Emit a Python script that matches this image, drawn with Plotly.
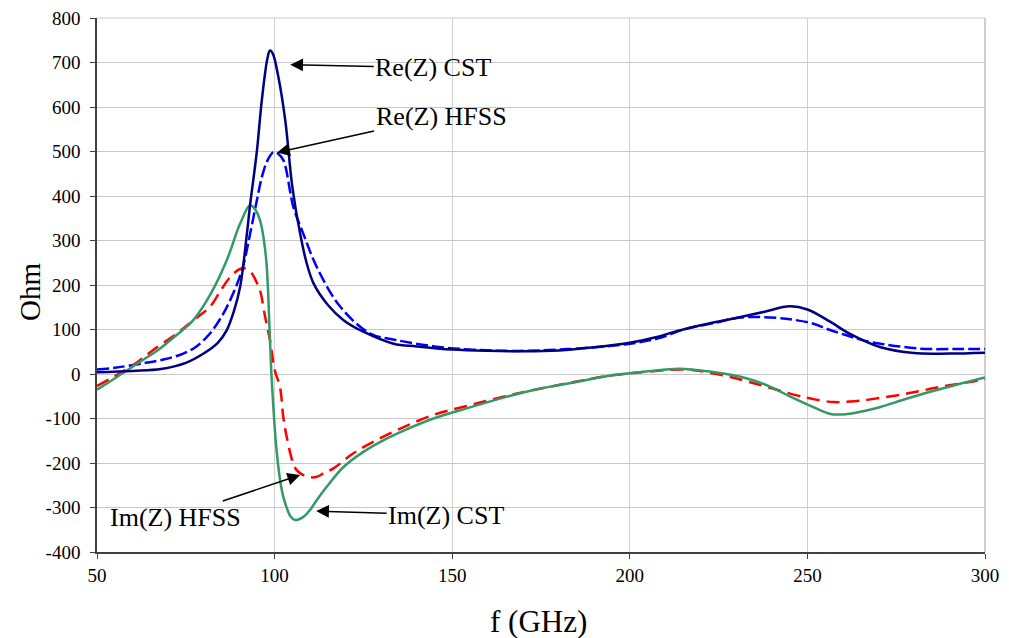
import plotly.graph_objects as go

# Re(Z) CST
re_cst_f = [50, 60, 68, 75, 80, 84, 86.5, 88.5, 90.3, 92.2, 93.1, 95, 96.4, 98, 98.7, 99.5, 101, 103, 105,
            107.2, 109, 111, 115, 119.4, 125, 133.5, 140, 150, 160, 170, 180, 190, 200, 207, 214, 222, 230,
            238, 245, 250, 256.5, 262, 270.6, 280, 290, 300]
re_cst_v = [4, 7, 11, 25, 46, 70, 98, 140, 196, 315, 380, 500, 615, 710, 727, 720, 670, 570, 420,
            315, 250, 203, 155, 121, 95, 68, 62, 55, 52, 51, 53, 60, 70, 82, 98, 113, 126,
            140, 152, 145, 117, 90, 60, 47, 46, 48]

# Re(Z) HFSS
re_hfss_f = [50, 55, 63, 69, 74.3, 78, 81.8, 85, 87.5, 90.8, 93.1, 95, 96.4, 98, 99.7, 101, 102.5, 105.3,
             108.1, 111.9, 118.5, 126.9, 134.4, 145, 155, 165, 175, 190, 200, 208, 216, 224, 231, 241.5,
             246, 251.7, 256, 261, 266, 271.4, 281.8, 292, 300]
re_hfss_v = [10, 14, 24, 33, 46, 62, 91, 128, 166, 233, 315, 390, 442, 480, 499, 495, 480, 375,
             315, 240, 151, 91, 76, 62, 55, 52, 53, 60, 68, 80, 102, 115, 127, 126,
             122, 113, 100, 87, 75, 67, 57, 56, 56]

# Im(Z) CST
im_cst_f = [50, 54, 58.4, 63, 67.7, 72, 77.1, 82, 86.5, 90.3, 93.1, 94.5, 95.9, 97, 97.8, 98.7, 99.2,
            100.6, 102, 103, 104.5, 105.8, 108.1, 110, 111.9, 115, 119.4, 125, 130.6, 137, 144.7, 155,
            165, 172.9, 185, 195, 205, 214, 222, 233, 240, 245.2, 251, 256.5, 261.2, 266, 270.6, 277,
            284.6, 292, 300]
im_cst_v = [-35, -15, 8, 32, 57, 85, 121, 180, 255, 338, 379, 370, 345, 300, 240, 76, -14,
            -175, -260, -291, -320, -328, -321, -305, -283, -250, -209, -175, -149, -125, -100, -75,
            -52, -36, -18, -3, 6, 12, 6, -10, -30, -51, -72, -90, -90, -83, -74, -58,
            -40, -24, -8]

# Im(Z) HFSS
im_hfss_f = [50, 55, 60.2, 66, 72.5, 77, 81.8, 85, 87.5, 90, 91.2, 92.5, 93.6, 95, 95.9, 97.3, 98.7,
             100, 101.5, 102.5, 103.4, 105, 106.2, 108.1, 110, 111.9, 114, 116.6, 122.2, 131.6, 144.7,
             155, 165, 172.9, 185, 195, 205, 216, 226.3, 236.8, 247, 252, 257.3, 262, 267.7, 278,
             287.5, 297.8, 300]
im_hfss_v = [-27, -5, 20, 55, 91, 120, 151, 190, 218, 235, 238, 233, 226, 205, 188, 130, 76,
             10, -29, -100, -141, -195, -216, -227, -232, -231, -222, -212, -178, -137, -92,
             -70, -50, -36, -17, -3, 5, 10, -3, -25, -48, -57, -63, -62, -57, -44,
             -29, -15, -12]

x_ticks = [50, 100, 150, 200, 250, 300]
y_ticks = [-400, -300, -200, -100, 0, 100, 200, 300, 400, 500, 600, 700, 800]
y_ticktext = [str(v) for v in y_ticks]

FONT = "Liberation Serif"

fig = go.Figure()
fig.add_trace(go.Scatter(x=re_hfss_f, y=re_hfss_v, mode="lines", line=dict(color="#0000FF", width=2.5, dash="12px,4px"),
                         line_shape="spline", name="Re(Z) HFSS"))
fig.add_trace(go.Scatter(x=im_hfss_f, y=im_hfss_v, mode="lines", line=dict(color="#FF0000", width=2.5, dash="13px,7px"),
                         line_shape="spline", name="Im(Z) HFSS"))
fig.add_trace(go.Scatter(x=im_cst_f, y=im_cst_v, mode="lines", line=dict(color="#339966", width=2.5),
                         line_shape="spline", name="Im(Z) CST"))
fig.add_trace(go.Scatter(x=re_cst_f, y=re_cst_v, mode="lines", line=dict(color="#000080", width=2.5),
                         line_shape="spline", name="Re(Z) CST"))

ann = [
    dict(text="Re(Z) CST", x=104.4, y=695, ax=143, ay=3),
    dict(text="Re(Z) HFSS", x=100.7, y=498, ax=164, ay=-36),
    dict(text="Im(Z) HFSS", x=107.2, y=-227, ax=-125, ay=42),
    dict(text="Im(Z) CST", x=111.7, y=-308, ax=130, ay=4),
]
for a in ann:
    fig.add_annotation(x=a["x"], y=a["y"], ax=a["ax"], ay=a["ay"], text=a["text"], showarrow=True,
                       arrowhead=2, arrowsize=1.7, arrowwidth=1.5, arrowcolor="black",
                       font=dict(family=FONT, size=26, color="black"))

# axis titles
fig.add_annotation(xref="paper", yref="paper", x=0.497, y=-0.131, yanchor="middle", showarrow=False,
                   text="f (GHz)", font=dict(family=FONT, size=31, color="black"))
fig.add_annotation(xref="paper", yref="paper", x=-0.0755, y=0.487, xanchor="center", yanchor="middle",
                   showarrow=False, textangle=-90, text="Ohm", font=dict(family=FONT, size=29, color="black"))

# grid lines at the top and right edges of the plot area
fig.add_shape(type="line", xref="paper", yref="paper", x0=0, x1=1, y0=1, y1=1,
              line=dict(color="#c8c8c8", width=1), layer="below")
fig.add_shape(type="line", xref="paper", yref="paper", x0=1, x1=1, y0=0, y1=1,
              line=dict(color="#c0c0c0", width=1.5), layer="below")

fig.update_layout(
    width=1001, height=630,
    margin=dict(l=89, r=24, t=10, b=86),
    paper_bgcolor="white", plot_bgcolor="white",
    showlegend=False,
    font=dict(family=FONT, size=19, color="black"),
)
fig.update_xaxes(range=[50, 300], tickvals=x_ticks, ticks="outside", ticklen=5, tickcolor="#404040",
                 showline=True, linecolor="#404040", linewidth=1.5, showgrid=True, gridcolor="#d0d0d0",
                 zeroline=False, tickfont=dict(family=FONT, size=19), automargin=False,
                 ticklabeloverflow="allow")
fig.update_yaxes(range=[-400, 800], tickvals=y_ticks, ticktext=y_ticktext, ticks="outside", ticklen=5,
                 tickcolor="#404040", ticklabelstandoff=6, ticklabeloverflow="allow",
                 showline=True, linecolor="#404040", linewidth=1.5, showgrid=True, gridcolor="#c8c8c8",
                 zeroline=False, tickfont=dict(family=FONT, size=19), automargin=False)

fig.write_html("out.html")
